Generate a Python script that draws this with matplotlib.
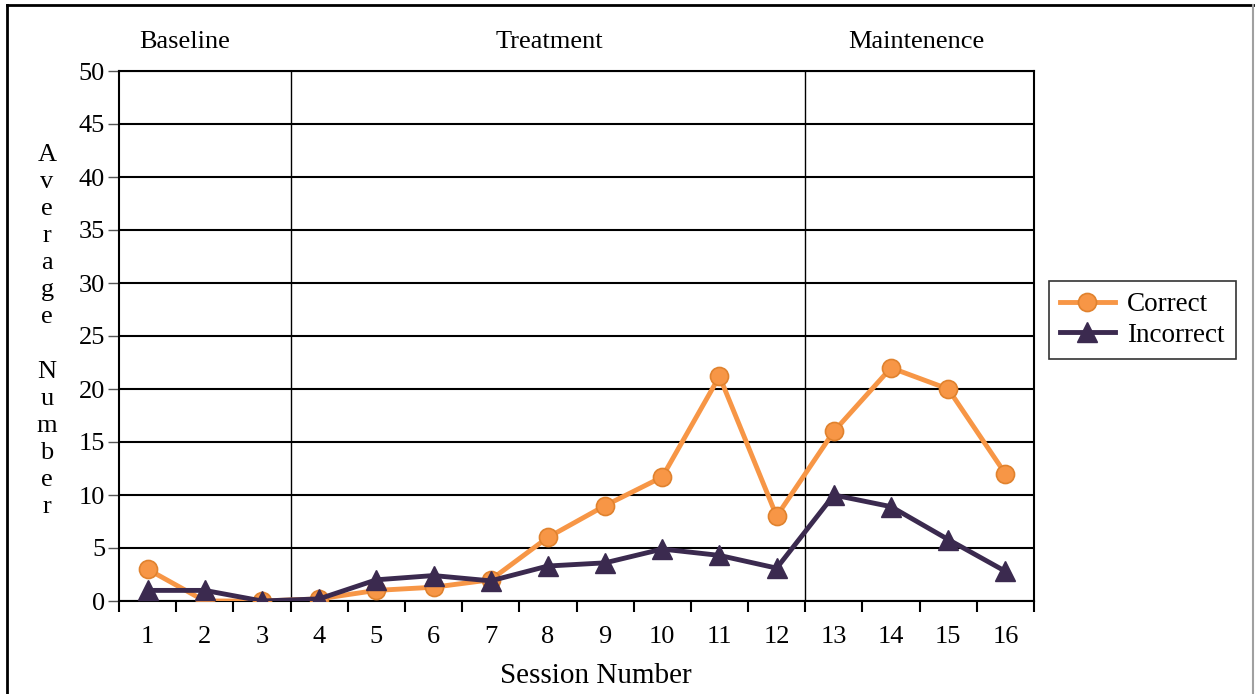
import matplotlib
matplotlib.use("Agg")
import matplotlib.pyplot as plt

sessions = list(range(1, 17))
correct = [3, 0, 0, 0.2, 1, 1.3, 2, 6, 9, 11.7, 21.2, 8, 16, 22, 20, 12]
incorrect = [1, 1, 0, 0.2, 2, 2.4, 1.9, 3.3, 3.6, 4.9, 4.3, 3.1, 10, 8.9, 5.8, 2.8]
phases = ["Baseline", "Treatment", "Maintenence"]
phase_breaks = [3.5, 12.5]
phase_label_x = [1.64, 8.03, 14.45]

plt.rcParams["font.family"] = ["Liberation Serif", "DejaVu Serif"]

W, H = 1255, 694
fig = plt.figure(figsize=(W / 100, H / 100), dpi=100)
ax = fig.add_axes([119 / W, 1 - 601 / H, (1034 - 119) / W, (601 - 71) / H])

# outer frame
fig.add_artist(plt.Line2D([7 / W, 7 / W], [0, 1 - 5 / H], color="black", lw=2, transform=fig.transFigure))
fig.add_artist(plt.Line2D([7 / W, 1253 / W], [1 - 5 / H, 1 - 5 / H], color="black", lw=2, transform=fig.transFigure))
fig.add_artist(plt.Line2D([1253 / W, 1253 / W], [0, 1 - 5 / H], color="#a0a0a0", lw=1.5, transform=fig.transFigure))

ax.plot(sessions, correct, color="#F79646", lw=3.5, marker="o", ms=13,
        mfc="#F79646", mec="#E0822E", mew=1.2, label="Correct", zorder=4)
ax.plot(sessions, incorrect, color="#3B2A4F", lw=3.5, marker="^", ms=14,
        mfc="#3B2A4F", mec="#3B2A4F", label="Incorrect", zorder=5)

ax.set_xlim(0.5, 16.5)
ax.set_ylim(0, 50)
ax.set_yticks(range(0, 51, 5))
ax.yaxis.grid(True, color="black", lw=1.5)
ax.set_axisbelow(True)
for x in phase_breaks:
    ax.axvline(x, color="black", lw=1)

ax.set_xticks([s + 0.5 for s in range(0, 17)])
ax.set_xticklabels([])
ax.set_xticks(sessions, minor=True)
ax.set_xticklabels([str(s) for s in sessions], minor=True, fontsize=19)
ax.tick_params(axis="x", which="minor", length=0, pad=18)
ax.tick_params(axis="x", which="major", direction="out", length=8, width=1.5)
ax.tick_params(axis="y", direction="out", length=8, width=1, color="#555555", labelsize=19, pad=2)
for s in ax.spines.values():
    s.set_linewidth(1.5)
    s.set_color("black")

ax.set_xlabel("Session Number", fontsize=21)
ax.xaxis.set_label_coords(0.521, -0.117)

for lab, x in zip(phases, phase_label_x):
    ax.text(x, 1.034, lab, transform=ax.get_xaxis_transform(), ha="center", va="bottom", fontsize=19)

ylab = "\n".join(list("Average")) + "\n\n" + "\n".join(list("Number"))
fig.text(47 / W, 1 - 331 / H, ylab, ha="center", va="center", fontsize=19, linespacing=1.3)

leg = fig.legend(loc="upper left", bbox_to_anchor=(1049 / W, 1 - 281 / H), frameon=True,
                 fancybox=False, edgecolor="black", fontsize=19.5, handlelength=2.0,
                 borderpad=0.42, labelspacing=0.2, handletextpad=0.45, borderaxespad=0)
leg.get_frame().set_linewidth(1.2)

fig.savefig("out.png", dpi=100)
